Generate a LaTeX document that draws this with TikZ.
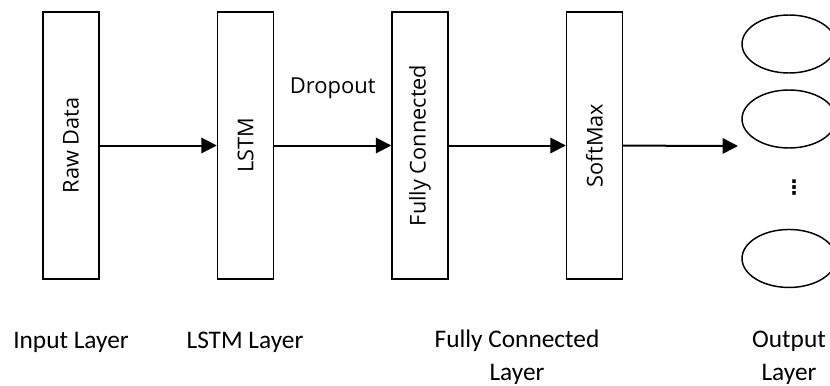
\documentclass[tikz,border=0pt]{standalone}
\usepackage{fontspec}
\setmainfont{Open Sans}
\newfontfamily\capfont{Carlito}
\newfontfamily\symfont{DejaVu Sans}
\usetikzlibrary{positioning, arrows.meta, shapes.geometric}

\begin{document}
\begin{tikzpicture}[x=0.75pt,y=-0.75pt,node distance=130.875pt,on grid,
    layer/.style={draw,line width=1.1pt,minimum width=42pt,minimum height=200.25pt,inner sep=0pt,font=\fontsize{16.3}{18}\selectfont},
    unit/.style={draw,ellipse,line width=1.1pt,minimum width=70.5pt,minimum height=43.5pt,inner sep=0pt},
    flow/.style={-{Triangle[length=11.5pt,width=11.5pt]},line width=1.5pt},
    caption/.style={font=\capfont\fontsize{19}{24.75}\selectfont,align=center,inner sep=0pt,anchor=base}]
  \clip (0,0) rectangle (830,385);
  % the four layer boxes
  \node[layer] (raw) at (71,145.5) {\rotatebox{90}{Raw Data}};
  \node[layer] (lstm) [right=of raw] {\rotatebox{90}{LSTM}};
  \node[layer] (fc) [right=of lstm] {\rotatebox{90}{Fully Connected}};
  \node[layer] (soft) [right=of fc] {\rotatebox{90}{SoftMax}};
  % output units
  \node[unit] (o1) at (789,44) {};
  \node[unit] (o2) [below=56.25pt of o1] {};
  \node[unit] (o3) [below=104.6pt of o2] {};
  \node[inner sep=0pt] (dots) at (794,188) {\symfont\bfseries\fontsize{15}{15}\selectfont ⋮};
  \coordinate (oin) at (738,146);
  % connections
  \draw[flow] (raw) -- (lstm);
  \draw[flow] (lstm) -- node[above=30.75pt,font=\fontsize{16.5}{18}\selectfont] (drop) {Dropout} (fc);
  \draw[flow] (fc) -- (soft);
  \draw[flow] (soft) -- (oin);
  % captions (base = last line)
  \node[caption] (inlbl) at (71,348) {Input Layer};
  \node[caption] (lstmlbl) at (245,348) {LSTM Layer};
  \node[caption] (fclbl) at (517,380) {Fully Connected\\Layer};
  \node[caption] (outlbl) at (789,380) {Output\\Layer};
\end{tikzpicture}
\end{document}
